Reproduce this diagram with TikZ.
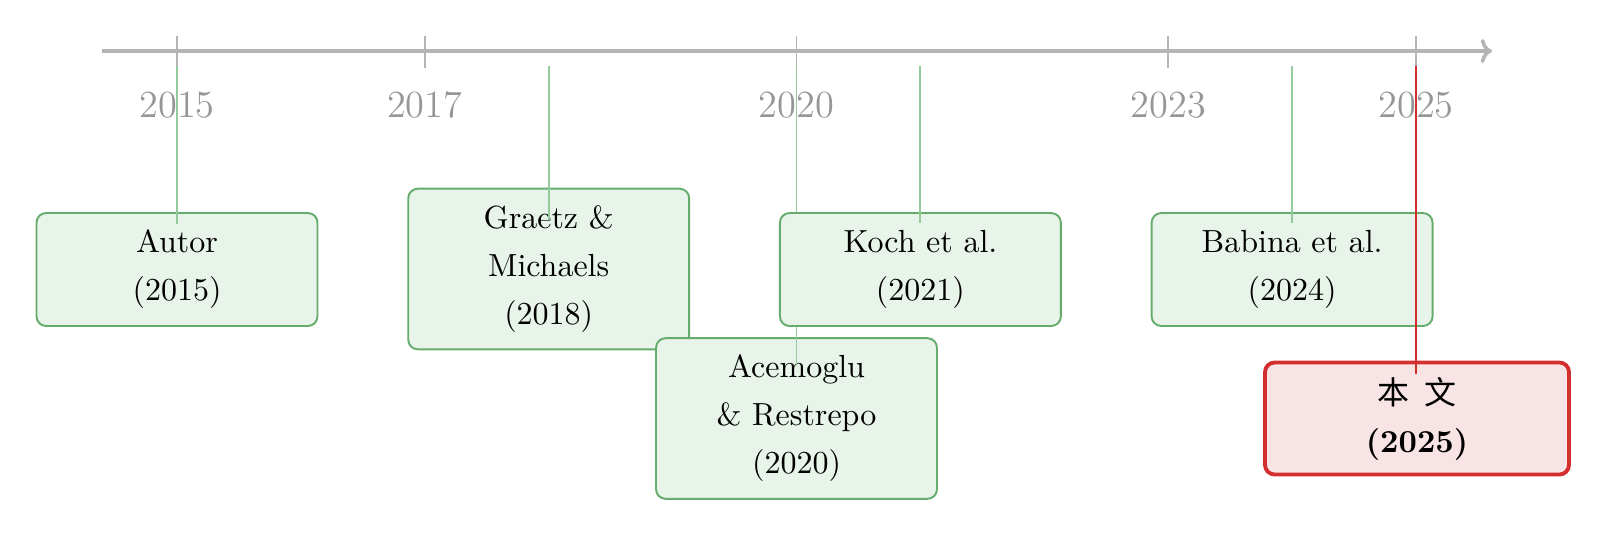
\documentclass[tikz,border=0pt]{standalone}
\usepackage{fontspec}
\usetikzlibrary{arrows.meta}
\newfontfamily\cjk{Noto Sans CJK SC}
\definecolor{axisgray}{RGB}{180,180,180}
\definecolor{yeargray}{RGB}{150,150,150}
\definecolor{boxgreen}{RGB}{102,172,108}
\definecolor{fillgreen}{RGB}{232,243,233}
\definecolor{linegreen}{RGB}{148,203,156}
\definecolor{boxred}{RGB}{211,47,47}
\definecolor{fillred}{RGB}{248,228,229}
\tikzset{
  evbox/.style={draw=boxgreen, fill=fillgreen, line width=0.6pt, rounded corners=3pt,
    align=center, minimum width=87.8pt, minimum height=35.3pt, inner sep=2pt,
    font=\fontsize{10}{15}\selectfont},
  evbox3/.style={evbox, minimum height=50.2pt},
  redbox/.style={draw=boxred, fill=fillred, line width=1.2pt, rounded corners=3pt,
    align=center, minimum width=95pt, minimum height=35pt, inner sep=2pt,
    font=\fontsize{10}{15}\selectfont\bfseries},
  pin/.style={draw=linegreen, line width=0.6pt},
  redpin/.style={draw=boxred, line width=0.5pt},
  tickmark/.style={draw=axisgray, line width=0.5pt},
  yearlbl/.style={text=yeargray, font=\large, inner sep=0pt},
}
\begin{document}
\begin{tikzpicture}[x=0.3125pt, y=-0.3125pt]
\useasboundingbox (0,0) rectangle (1607,537);
% axis
\coordinate (axA) at (102,51);
\coordinate (axB) at (1492,51);
\draw[draw=axisgray, line width=1.1pt, -{To[length=3.5pt,width=7.5pt]}] (axA) -- (axB);
% ticks and year labels
\foreach \yr/\xx in {2015/177, 2017/424.8, 2020/796.5, 2023/1168.2, 2025/1416}{
  \coordinate (tka\yr) at (\xx,36);
  \coordinate (tkb\yr) at (\xx,68);
  \draw[tickmark] (tka\yr) -- (tkb\yr);
  \node[yearlbl] (yl\yr) at (\xx,105) {\yr};
}
% Autor 2015
\node[evbox] (autor) at (177,269.5) {Autor\\(2015)};
\coordinate (pa1) at (177,66); \coordinate (pa2) at (177,224);
\draw[pin] (pa1) -- (pa2);
% Graetz 2018
\node[evbox3] (graetz) at (548.7,269) {Graetz \&\\Michaels\\(2018)};
\coordinate (pg1) at (548.7,66); \coordinate (pg2) at (548.7,220);
\draw[pin] (pg1) -- (pg2);
% Acemoglu 2020
\node[evbox3] (acem) at (796.5,418.5) {Acemoglu\\\& Restrepo\\(2020)};
\coordinate (pc1) at (796.5,66); \coordinate (pc2) at (796.5,366);
\draw[pin] (pc1) -- (pc2);
% Koch 2021
\node[evbox] (koch) at (920.4,269.5) {Koch et al.\\(2021)};
\coordinate (pk1) at (920.4,66); \coordinate (pk2) at (920.4,223);
\draw[pin] (pk1) -- (pk2);
% Babina 2024
\node[evbox] (babina) at (1292.1,269.5) {Babina et al.\\(2024)};
\coordinate (pb1) at (1292.1,66); \coordinate (pb2) at (1292.1,223);
\draw[pin] (pb1) -- (pb2);
% this paper 2025
\node[redbox] (ours) at (1417,418.5) {{\cjk\mdseries 本\ \ 文}\\(2025)};
\coordinate (pr1) at (1416,66); \coordinate (pr2) at (1416,374);
\draw[redpin] (pr1) -- (pr2);
\end{tikzpicture}
\end{document}
